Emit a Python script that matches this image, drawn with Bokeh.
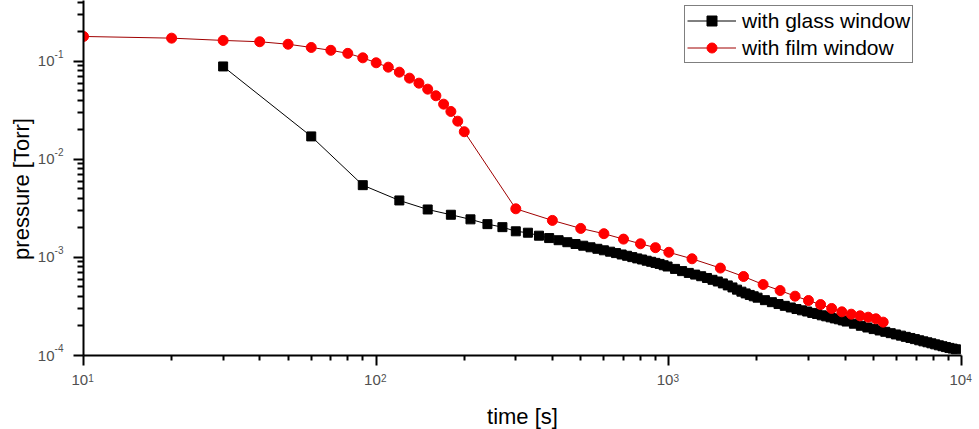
from bokeh.plotting import figure
from bokeh.models import FixedTicker, Legend, LegendItem, Range1d, LogAxis
from bokeh.embed import file_html
from bokeh.resources import INLINE

# ---- data ----
glass_t = [30, 60, 90, 120, 150, 180, 210, 240, 270, 300, 330, 360, 390, 420, 450,
           480, 510, 540, 570, 600, 630, 660, 690, 720, 750, 780, 810, 840, 870, 900,
           930, 960, 990, 1050, 1110, 1170, 1230, 1290, 1350, 1410, 1470, 1530, 1590,
           1650, 1710, 1770, 1830, 1890, 1950, 2010, 2130, 2250, 2370, 2490, 2610,
           2730, 2850, 2970, 3090, 3210, 3330, 3450, 3570, 3690, 3810, 3930, 4050,
           4290, 4530, 4770, 5010, 5250, 5490, 5730, 5970, 6210, 6450, 6690, 6930,
           7170, 7410, 7650, 7890, 8130, 8370, 8610, 8850, 9090, 9330, 9570]
glass_p = [0.089, 0.0172, 0.00547, 0.00382, 0.00309, 0.00273, 0.00245, 0.00219,
           0.00204, 0.00185, 0.00179, 0.001669, 0.001578, 0.001501, 0.001432,
           0.001373, 0.001319, 0.001271, 0.001227, 0.001184, 0.001146, 0.001109,
           0.001073, 0.001041, 0.001009, 0.000979, 0.000954, 0.000927, 0.000904,
           0.000881, 0.000860, 0.000834, 0.000809, 0.000765, 0.000726, 0.000696,
           0.000669, 0.000644, 0.000618, 0.000592, 0.000569, 0.000544, 0.000519,
           0.000495, 0.000470, 0.000448, 0.000430, 0.000415, 0.000402, 0.000389,
           0.000367, 0.000350, 0.000335, 0.000321, 0.000309, 0.000298, 0.000289,
           0.000281, 0.000272, 0.000265, 0.000257, 0.000251, 0.000245, 0.000239,
           0.000234, 0.000228, 0.000222, 0.000211, 0.000201, 0.000193, 0.000186,
           0.000180, 0.0001745, 0.000169, 0.000164, 0.0001595, 0.000155, 0.000151,
           0.000147, 0.000143, 0.0001395, 0.0001364, 0.0001332, 0.000130, 0.000127,
           0.0001244, 0.0001218, 0.0001196, 0.0001176, 0.0001157]

film_t = [10, 20, 30, 40, 50, 60, 70, 80, 90, 100, 110, 120, 130, 140, 150, 160,
          170, 180, 190, 200, 300, 400, 500, 600, 700, 800, 900, 1000, 1200, 1500,
          1800, 2100, 2400, 2700, 3000, 3300, 3600, 3900, 4200, 4500, 4800, 5100, 5400]
film_p = [0.180, 0.173, 0.164, 0.159, 0.150, 0.139, 0.130, 0.121, 0.109, 0.097,
          0.0875, 0.0778, 0.0676, 0.0601, 0.0522, 0.0447, 0.0367, 0.0309, 0.0246,
          0.0192, 0.00314, 0.00239, 0.00198, 0.00175, 0.00154, 0.00138, 0.00126,
          0.00113, 0.00097, 0.00078, 0.00064, 0.00053, 0.00046, 0.000403, 0.000364,
          0.000331, 0.000302, 0.000279, 0.000264, 0.000254, 0.000246, 0.000237,
          0.000219]

x_major = [10, 100, 1000, 10000]
x_sup = ["1", "2", "3", "4"]
y_major = [1e-4, 1e-3, 1e-2, 1e-1]
y_sup = ["-4", "-3", "-2", "-1"]
series_names = ["with glass window", "with film window"]
x_title = "time [s]"
y_title = "pressure [Torr]"

X0, X1 = 10, 10000
Y0, Y1 = 1e-4, 0.419
FONT = "Liberation Sans"
TICK_COLOR = "#505050"
EN, EM = "\u2002", "\u2003"

p = figure(frame_width=878, frame_height=355, x_axis_type="log", y_axis_type="log",
           x_range=Range1d(X0, X1), y_range=Range1d(Y0, Y1),
           output_backend="svg", toolbar_location=None,
           min_border_left=83, min_border_right=17, min_border_top=0,
           min_border_bottom=66)
p.outline_line_color = None
p.grid.visible = False
p.background_fill_color = "white"
p.border_fill_color = "white"

x_minor = [k * d for d in [10, 100, 1000] for k in range(2, 10)]
y_minor = [k * d for d in [1e-4, 1e-3, 1e-2, 1e-1] for k in range(2, 10)]

# main axes: line, ticks and the mantissa "10"
xa, ya = p.xaxis[0], p.yaxis[0]
xa.ticker = FixedTicker(ticks=x_major, minor_ticks=x_minor)
ya.ticker = FixedTicker(ticks=y_major, minor_ticks=y_minor)
xa.major_label_overrides = {v: "10" + EN for v in x_major}
ya.major_label_overrides = {v: "10" for v in y_major}
for ax in (xa, ya):
    ax.axis_line_width = 2
    ax.axis_line_color = "black"
    ax.major_tick_line_width = 2
    ax.minor_tick_line_width = 2
    ax.major_tick_line_color = "black"
    ax.minor_tick_line_color = "black"
    ax.major_tick_in = 0
    ax.major_tick_out = 10
    ax.minor_tick_in = 0
    ax.major_label_text_font = FONT
    ax.major_label_text_font_size = "15px"
    ax.major_label_text_color = TICK_COLOR
xa.minor_tick_out = 5
ya.minor_tick_out = 6
xa.major_label_standoff = 5
ya.major_label_standoff = 19

# exponent axes (labels only), carrying the axis titles
xe = LogAxis(ticker=FixedTicker(ticks=x_major, minor_ticks=[]),
             major_label_overrides={v: EM + EN + s for v, s in zip(x_major, x_sup)})
ye = LogAxis(ticker=FixedTicker(ticks=y_major, minor_ticks=[]),
             major_label_overrides={v: s + "\n\u00a0" for v, s in zip(y_major, y_sup)})
for ax in (xe, ye):
    ax.axis_line_color = None
    ax.major_tick_line_color = None
    ax.minor_tick_line_color = None
    ax.major_tick_in = 0
    ax.major_tick_out = 0
    ax.minor_tick_in = 0
    ax.minor_tick_out = 0
    ax.major_label_text_font = FONT
    ax.major_label_text_font_size = "10px"
    ax.major_label_text_color = TICK_COLOR
    ax.axis_label_text_font = FONT
    ax.axis_label_text_font_size = "22px"
    ax.axis_label_text_font_style = "normal"
    ax.axis_label_text_color = "black"
xe.major_label_standoff = -18
xe.axis_label = x_title
xe.axis_label_standoff = 17
ye.major_label_standoff = -29
ye.axis_label = y_title + EM
ye.axis_label_standoff = 18
p.add_layout(xe, "below")
p.add_layout(ye, "left")

gl = p.line(glass_t, glass_p, line_color="black", line_width=1)
gs = p.scatter(glass_t, glass_p, marker="square", size=9, fill_color="black",
               line_color="black")
fl = p.line(film_t, film_p, line_color="#a00000", line_width=1)
fs = p.scatter(film_t, film_p, marker="circle", size=10, fill_color="#ff0000",
               line_color="#ff0000")

legend = Legend(items=[LegendItem(label=series_names[0], renderers=[gl, gs]),
                       LegendItem(label=series_names[1], renderers=[fl, fs])],
                location=(601, 292))
legend.margin = 0
legend.padding = 2
legend.spacing = 2
legend.glyph_width = 49
legend.glyph_height = 25
legend.label_height = 25
legend.label_standoff = 6
legend.label_text_font = FONT
legend.label_text_font_size = "21px"
legend.label_text_color = "black"
legend.border_line_color = "black"
legend.border_line_width = 1
legend.background_fill_color = "white"
legend.background_fill_alpha = 1
p.add_layout(legend, "center")

open("out.html", "w").write(file_html(p, INLINE))
